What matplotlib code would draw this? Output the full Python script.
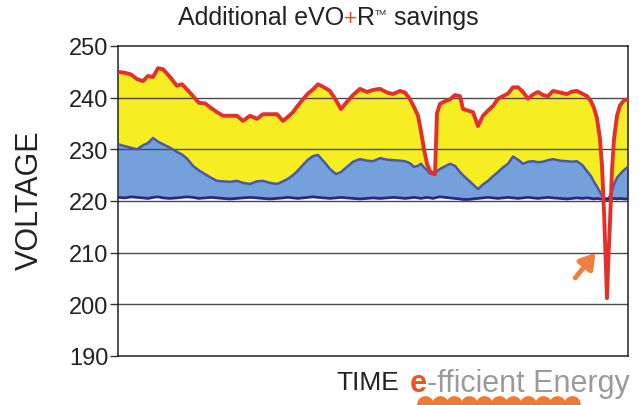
#Recreate the eVO+R voltage savings chart
import numpy as np
import matplotlib.pyplot as plt
from matplotlib.lines import Line2D

plt.rcParams['font.family'] = ['Liberation Sans', 'DejaVu Sans']

#Time samples (arbitrary units)
time = [0, 7, 13, 19, 25, 30, 35, 40, 45, 52, 59, 64, 69, 75, 81, 87, 93, 99, 105, 112,
        119, 125, 132, 139, 145, 152, 159, 165, 170, 175, 180, 185, 190, 195, 200, 206,
        212, 218, 223, 229, 235, 242, 249, 255, 262, 269, 275, 282, 287, 292, 296, 300,
        303, 306, 309, 312, 315, 317, 319, 322, 327, 332, 337, 342, 345, 350, 355, 360,
        365, 370, 375, 380, 385, 390, 395, 400, 405, 410, 415, 420, 425, 430, 435, 442,
        449, 454, 459, 464, 469, 473, 476, 479, 482, 484, 486, 488, 489, 490, 492, 494,
        496, 499, 502, 506, 510]

#Supply voltage before optimisation (red)
supply = [245.0, 244.8, 244.5, 243.6, 243.2, 244.2, 244.0, 245.7, 245.5, 244.0, 242.3,
          242.6, 241.6, 240.3, 239.0, 238.9, 238.0, 237.2, 236.5, 236.5, 236.5, 235.5,
          236.5, 235.9, 236.8, 236.8, 236.8, 235.5, 236.3, 237.2, 238.5, 239.7, 240.8,
          241.6, 242.6, 242.0, 241.3, 239.5, 237.8, 239.2, 240.5, 241.7, 241.1, 241.5,
          241.7, 241.0, 240.7, 241.3, 241.0, 239.7, 238.2, 236.5, 233.5, 230.0, 227.2,
          225.8, 225.3, 225.2, 237.0, 238.8, 239.3, 239.7, 240.5, 240.3, 237.8, 237.5,
          237.2, 234.5, 236.5, 237.5, 238.4, 239.8, 240.3, 240.8, 242.0, 242.0, 241.1,
          239.8, 240.6, 241.1, 240.5, 240.3, 241.3, 241.0, 240.7, 241.2, 241.3, 240.8,
          240.3, 239.3, 238.0, 236.0, 232.0, 226.8, 218.0, 207.0, 201.2, 207.0, 216.0,
          226.0, 232.0, 236.5, 238.5, 239.5, 239.7]

#Voltage after eVO (blue)
evo = [231.0, 230.6, 230.3, 230.0, 230.8, 231.2, 232.2, 231.5, 231.0, 230.3, 229.5,
       229.0, 228.2, 226.8, 225.9, 225.2, 224.5, 223.9, 223.8, 223.7, 223.9, 223.5,
       223.3, 223.8, 223.9, 223.5, 223.3, 223.8, 224.3, 225.0, 225.9, 227.0, 228.0,
       228.7, 228.9, 227.6, 226.2, 225.2, 225.6, 226.6, 227.6, 228.1, 227.8, 227.7,
       228.3, 228.0, 227.9, 227.8, 227.7, 227.3, 226.6, 226.8, 227.2, 226.5, 226.0,
       225.3, 225.2, 225.4, 225.8, 226.2, 226.7, 227.2, 226.8, 225.6, 225.0, 224.1,
       223.2, 222.3, 223.2, 223.9, 224.8, 225.6, 226.5, 227.2, 228.6, 228.0, 227.2,
       227.6, 227.7, 227.5, 227.6, 227.9, 228.1, 227.8, 227.7, 227.6, 227.7, 227.0,
       225.8, 224.8, 223.7, 222.8, 221.7, 221.0, 220.6, 220.5, 220.4, 220.5, 221.0,
       222.0, 223.2, 224.5, 225.2, 226.0, 226.6]

#Voltage after eVO+R (navy)
evo_r = [220.7, 220.6, 220.8, 220.7, 220.6, 220.5, 220.7, 220.8, 220.6, 220.5, 220.6,
         220.7, 220.8, 220.7, 220.5, 220.6, 220.7, 220.6, 220.5, 220.4, 220.5, 220.6,
         220.7, 220.6, 220.5, 220.4, 220.5, 220.6, 220.7, 220.6, 220.5, 220.6, 220.7,
         220.8, 220.7, 220.6, 220.5, 220.6, 220.7, 220.6, 220.5, 220.4, 220.5, 220.6,
         220.5, 220.6, 220.7, 220.6, 220.5, 220.6, 220.7, 220.6, 220.5, 220.6, 220.7,
         220.6, 220.5, 220.6, 220.7, 220.8, 220.7, 220.6, 220.5, 220.4, 220.3, 220.3,
         220.4, 220.5, 220.6, 220.7, 220.6, 220.5, 220.6, 220.7, 220.6, 220.5, 220.6,
         220.7, 220.6, 220.5, 220.6, 220.7, 220.6, 220.5, 220.4, 220.5, 220.6, 220.5,
         220.6, 220.5, 220.4, 220.5, 220.4, 220.4, 220.4, 220.3, 220.3, 220.3, 220.4,
         220.4, 220.5, 220.4, 220.5, 220.4, 220.4]

yticks = [190, 200, 210, 220, 230, 240, 250]

t = np.array(time)
red = np.array(supply)
blue = np.array(evo)
navy = np.array(evo_r)

W, H = 639, 406
fig = plt.figure(figsize=(W / 100, H / 100), dpi=100)
ax = fig.add_axes([118 / W, 1 - 357 / H, 510 / W, 310 / H])

#Filled bands
ax.fill_between(t, navy, blue, color='#74a0dc', lw=0)
ax.fill_between(t, blue, red, where=red >= blue, interpolate=True, color='#f6ee22', lw=0)

#Grid lines
for v in yticks[1:-1]:
    ax.axhline(v, color='#4a4a4a', lw=1.0, zorder=1.5)

ax.plot(t, blue, color='#4a58aa', lw=1.8, zorder=3)
ax.plot(t, navy, color='#2c2780', lw=2.0, zorder=3)
ax.plot(t, red, color='#e3302a', lw=2.8, zorder=4)

ax.set_xlim(0, 510)
ax.set_ylim(190, 250)
ax.set_yticks(yticks)
ax.set_xticks([])
ax.tick_params(axis='y', labelsize=17, length=6, width=1, color='#333333', labelcolor='#222222', pad=1)
for s in ax.spines.values():
    s.set_color('#222222')
    s.set_linewidth(1.1)

fig.text(30 / W, 1 - 200 / H, 'VOLTAGE', fontsize=22, color='#222222', rotation=90,
         ha='center', va='center')

renderer = fig.canvas.get_renderer()

def chain(pieces, x0, y0):
    #place text pieces one after another (x in pixels)
    x = x0
    for txt, kw in pieces:
        dy = kw.pop('dy', 0)
        tx = fig.text(x / W, (y0 + dy) / H, txt, ha='left', va='baseline', **kw)
        x = tx.get_window_extent(renderer).x1

#Title with red plus sign
tk = dict(fontsize=18, color='#222222')
chain([('Additional eVO', dict(tk)),
       ('+', dict(fontsize=16, color='#e04a3a')),
       ('R', dict(tk)),
       ('TM', dict(fontsize=6, color='#222222', dy=10)),
       (' savings', dict(tk))], 178, H - 25)

fig.text(368 / W, 1 - 383 / H, 'TIME', fontsize=19, color='#222222', ha='center', va='center')

#Logo
chain([('e', dict(fontsize=22, color='#e8552a', fontweight='bold')),
       ('-fficient Energy', dict(fontsize=22, color='#9a9a9a'))], 410, H - 392)

dots_x = np.linspace(425, 572, 11) / W
fig.add_artist(Line2D(dots_x, [1 - 405 / H] * 11, transform=fig.transFigure, ls='none',
                      marker='o', ms=11, mfc='#ef7a30', mec='#ef7a30'))

#Arrow pointing at the dip
ax.annotate('', xy=(0.94, 0.34), xytext=(0.893, 0.245), xycoords='axes fraction',
            arrowprops=dict(arrowstyle='-|>,head_width=0.55,head_length=0.9', color='#f08040', lw=3.5))

fig.savefig('out.png', dpi=100)
